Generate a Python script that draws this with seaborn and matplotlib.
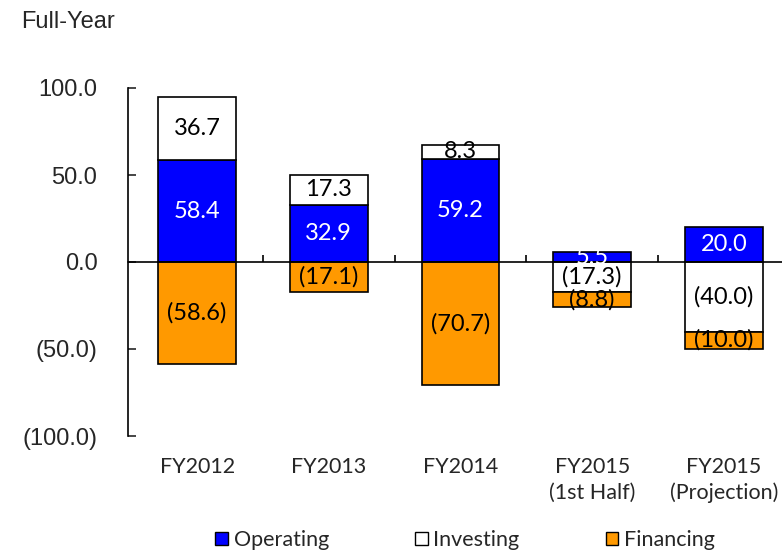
import numpy as np
import matplotlib
matplotlib.use("Agg")
import matplotlib.pyplot as plt
import matplotlib.ticker as mticker
from matplotlib.patches import Patch
import seaborn as sns

categories = ["FY2012", "FY2013", "FY2014", "FY2015\n(1st Half)", "FY2015\n(Projection)"]
operating = np.array([58.4, 32.9, 59.2, 5.5, 20.0])
investing = np.array([36.7, 17.3, 8.3, -17.3, -40.0])
financing = np.array([-58.6, -17.1, -70.7, -8.8, -10.0])
series_names = ["Operating", "Investing", "Financing"]
yticks = [-100, -50, 0, 50, 100]

BLUE = "#0000FF"
ORANGE = "#FF9900"

sns.set_style("white")
plt.rcParams["font.family"] = ["Liberation Sans", "DejaVu Sans"]

fig = plt.figure(figsize=(7.82, 5.5), dpi=100)
ax = fig.add_axes([128 / 782, 1 - 436 / 550, 665 / 782, 348 / 550])

# positives stack upward from 0, negatives stack downward from 0
op_bottom = np.zeros(len(operating))
inv_bottom = np.where(investing > 0, operating, 0.0)
fin_bottom = np.minimum(investing, 0.0)

bar_kw = dict(edgecolor="black", linewidth=1.2, width=0.59, saturation=1, ax=ax)
sns.barplot(x=categories, y=operating, bottom=op_bottom, color=BLUE, **bar_kw)
sns.barplot(x=categories, y=investing, bottom=inv_bottom, color="white", **bar_kw)
sns.barplot(x=categories, y=financing, bottom=fin_bottom, color=ORANGE, **bar_kw)


def fmt(v):
    return f"({abs(v):.1f})" if v < 0 else f"{v:.1f}"


label_colors = ["white", "black", "black"]
for cont, vals, col in zip(ax.containers, [operating, investing, financing], label_colors):
    ax.bar_label(cont, labels=[fmt(v) for v in vals], label_type="center",
                 color=col, fontsize=17, family=["Lato", "DejaVu Sans"])

ax.set_ylim(-100, 100)
ax.set_yticks(yticks)
ax.yaxis.set_major_formatter(mticker.FuncFormatter(lambda v, p: fmt(v)))
ax.tick_params(axis="y", direction="in", length=6, width=1.2, pad=22, labelsize=17, left=True)

ax.set_xticks(range(len(categories)))
ax.set_xticklabels(categories, fontsize=15.5, family=["Lato", "DejaVu Sans"], linespacing=1.35)
ax.tick_params(axis="x", length=0, pad=15)
ax.set_xlabel("")
ax.set_ylabel("")

for s in ["top", "right", "bottom"]:
    ax.spines[s].set_visible(False)
ax.spines["left"].set_linewidth(1.2)
ax.spines["left"].set_color("black")

# zero line with category separators
ax.axhline(0, color="black", linewidth=1.2, zorder=1, clip_on=False)
ax.vlines(np.arange(len(categories) - 1) + 0.5, 0, 4, color="black", linewidth=1.2)

fig.text(21 / 782, 1 - 22 / 550, "Full-Year", fontsize=17, va="center", ha="left")

handles = [Patch(facecolor=c, edgecolor="black", linewidth=1.0) for c in [BLUE, "white", ORANGE]]
fig.legend(handles, series_names, loc="center", bbox_to_anchor=(465 / 782, 1 - 540 / 550),
           ncol=3, frameon=False, handlelength=0.6, handleheight=0.6, handletextpad=0.25,
           columnspacing=4.0, prop={"family": ["Lato", "DejaVu Sans"], "size": 15.5})

fig.savefig("out.png", dpi=100)
